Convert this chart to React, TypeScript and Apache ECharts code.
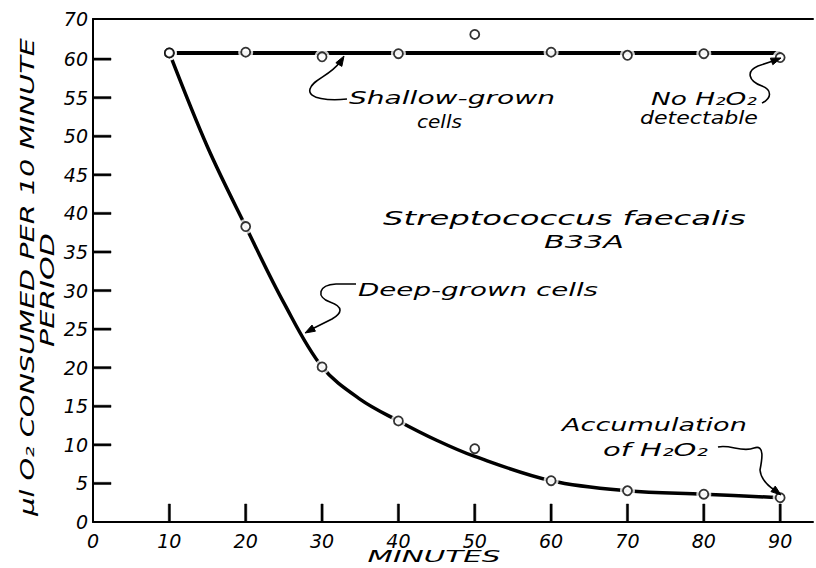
import React, { useEffect, useRef } from "react";
import * as echarts from "echarts";

// ---------- data ----------
const minutes = [10, 20, 30, 40, 50, 60, 70, 80, 90];
const shallowObserved = [60.8, 60.9, 60.3, 60.7, 63.2, 60.9, 60.5, 60.7, 60.2];
const deepObserved = [60.8, 38.3, 20.1, 13.1, 9.5, 5.35, 4.05, 3.6, 3.15];
const offCurveMinute = 50;

const shallowFitMinutes = [10, 90];
const shallowFitValues = [60.8, 60.8];
const deepFitMinutes = [10, 15, 20, 25, 30, 35, 40, 45, 50, 60, 70, 80, 90];
const deepFitValues = [60.8, 48.6, 38.3, 28.4, 20.1, 15.9, 13.1, 10.6, 8.5, 5.35, 4.05, 3.6, 3.15];

const xLabelValues = [0, 10, 20, 30, 40, 50, 60, 70, 80, 90];
const xTickLabels = ["0", "10", "20", "30", "40", "50", "60", "70", "80", "90"];
const xTickValues = [10, 20, 30, 40, 50, 60, 70, 80, 90];
const xStep = 10;
const xMax = 94.3;

const yTop = 65.2;
const yLabelValues = [0, 5, 10, 15, 20, 25, 30, 35, 40, 45, 50, 55, 60, yTop];
const yTickLabels = ["0", "5", "10", "15", "20", "25", "30", "35", "40", "45", "50", "55", "60", "70"];
const yTickValues = [5, 10, 15, 20, 25, 30, 35, 40, 45, 50, 55, 60];
const yStep = 5;

const FONT = '"DejaVu Sans", sans-serif';
const INK = "#000";
const TICK_LEN = 18;
const TICK_W = 2.2;
const GRID = { left: 93, right: 0, top: 19, bottom: 46 };
const W = 816;
const H = 568;

function measure(text: string, size: number): number {
  try {
    const ctx = document.createElement("canvas").getContext("2d");
    if (ctx) {
      ctx.font = `italic ${size}px "DejaVu Sans"`;
      return ctx.measureText(text).width;
    }
  } catch (e) {}
  return text.length * size * 0.6;
}

function label(text: string, x: number, y: number, width: number, size: number, align = "left", rotation = 0) {
  const w = measure(text, size);
  return {
    type: "text",
    x,
    y,
    rotation,
    scaleX: width / w,
    silent: true,
    z: 10,
    style: {
      text,
      fontSize: size,
      fontFamily: FONT,
      fontStyle: "italic",
      fill: INK,
      align,
      verticalAlign: "middle",
    },
  };
}

function arrowHead(tip: number[], from: number[], len = 10, half = 3.5) {
  const dx = tip[0] - from[0];
  const dy = tip[1] - from[1];
  const d = Math.hypot(dx, dy) || 1;
  const ux = dx / d, uy = dy / d;
  const bx = tip[0] - ux * len, by = tip[1] - uy * len;
  const px = -uy, py = ux;
  return {
    type: "polygon",
    silent: true,
    z: 10,
    shape: { points: [tip, [bx + px * half, by + py * half], [bx - px * half, by - py * half]] },
    style: { fill: INK, stroke: INK, lineWidth: 1 },
  };
}

const arrows = [
  { name: "arrowShallow", d: "M347 99 C330 101 307 99 310 89 C313 79 330 76 340 62", tip: [344, 56], from: [338, 66] },
  { name: "arrowNoH2O2", d: "M762 103 C772 98 772 90 762 86 C748 81 746 71 758 66 L776 60", tip: [781, 58], from: [770, 62] },
  { name: "arrowDeep", d: "M356 284 L336 284 C318 285 316 297 330 302 C344 307 342 313 332 319 L310 330", tip: [305, 333], from: [314, 328] },
  { name: "arrowAccum", d: "M718 447 C730 444 742 453 754 448 C765 444 762 460 760 470 C761 480 768 486 776 491", tip: [781, 495], from: [772, 488] },
];

function lookup(values: number[], labels: string[], v: number) {
  const i = values.findIndex((t) => Math.abs(t - v) < 1e-6);
  return i >= 0 ? labels[i] : "";
}

export default function App() {
  const ref = useRef<HTMLDivElement>(null);

  useEffect(() => {
    if (!ref.current) return;
    document.body.style.margin = "0";
    arrows.forEach((a) => {
      echarts.graphic.registerShape(a.name, echarts.graphic.extendPath(a.d, {}) as any);
    });
    const chart = echarts.init(ref.current, undefined, { renderer: "svg", width: W, height: H });

    const observed = [
      ...minutes.map((m, i) => [m, shallowObserved[i]]),
      ...minutes.map((m, i) => [m, deepObserved[i]]),
    ];
    const halo = observed.filter((p) => p[0] !== offCurveMinute);

    // tick data: [x, y, direction] ; 0 = vertical tick on the x axis, 1 = horizontal tick on the y axis
    const tickData = [
      ...xTickValues.map((v) => [v, 0, 0]),
      ...yTickValues.map((v) => [0, v, 1]),
    ];

    const labelText = {
      color: INK,
      fontSize: 19,
      fontStyle: "italic" as const,
      fontFamily: FONT,
    };
    const axisStyle = { color: INK, width: 2 };

    const graphics: any[] = [
      label("μl O₂ CONSUMED PER 10 MINUTE", 27, 277, 478, 20, "center", Math.PI / 2),
      label("PERIOD", 47, 290, 114, 20, "center", Math.PI / 2),
      label("MINUTES", 434, 557, 133, 16, "center"),
      label("Shallow-grown", 349, 98, 206, 18),
      label("cells", 417, 121, 45, 18),
      label("No H₂O₂", 651, 99, 106, 18),
      label("detectable", 640, 118, 118, 18),
      label("Streptococcus faecalis", 383, 218, 363, 19),
      label("B33A", 544, 242, 80, 18),
      label("Deep-grown cells", 358, 290, 240, 18),
      label("Accumulation", 562, 425, 185, 18),
      label("of H₂O₂", 603, 450, 105, 18),
    ];
    arrows.forEach((a) => {
      graphics.push({
        type: a.name,
        x: 0,
        y: 0,
        silent: true,
        z: 10,
        style: { fill: "none", stroke: INK, lineWidth: 1.6 },
      });
      graphics.push(arrowHead(a.tip, a.from));
    });

    chart.setOption({
      animation: false,
      backgroundColor: "#fff",
      grid: GRID,
      xAxis: [
        {
          type: "value",
          min: 0,
          max: xMax,
          interval: xStep,
          axisLine: { show: true, onZero: false, lineStyle: axisStyle },
          axisTick: { show: false },
          axisLabel: {
            ...labelText,
            margin: 9,
            showMaxLabel: true,
            formatter: (v: number) => lookup(xLabelValues, xTickLabels, v),
          },
          splitLine: { show: false },
        },
        {
          type: "value",
          position: "top",
          min: 0,
          max: xMax,
          axisLine: { show: true, onZero: false, lineStyle: axisStyle },
          axisTick: { show: false },
          axisLabel: { show: false },
          splitLine: { show: false },
        },
      ],
      yAxis: {
        type: "value",
        min: 0,
        max: yTop,
        interval: yStep,
        axisLine: { show: true, onZero: false, lineStyle: axisStyle },
        axisTick: { show: false },
        axisLabel: {
          ...labelText,
          margin: 5,
          showMaxLabel: true,
          formatter: (v: number) => lookup(yLabelValues, yTickLabels, v),
        },
        splitLine: { show: false },
      },
      graphic: { elements: graphics },
      series: [
        {
          type: "line",
          name: "Shallow-grown fit",
          data: shallowFitMinutes.map((m, i) => [m, shallowFitValues[i]]),
          symbol: "none",
          lineStyle: { color: INK, width: 4 },
          z: 1,
          silent: true,
        },
        {
          type: "line",
          name: "Deep-grown fit",
          data: deepFitMinutes.map((m, i) => [m, deepFitValues[i]]),
          smooth: 0.35,
          symbol: "none",
          lineStyle: { color: INK, width: 3.5 },
          z: 1,
          silent: true,
        },
        {
          type: "scatter",
          name: "halo",
          data: halo,
          symbol: "circle",
          symbolSize: 15,
          itemStyle: { color: "#fff" },
          z: 3,
          silent: true,
        },
        {
          type: "scatter",
          name: "observed",
          data: observed,
          symbol: "circle",
          symbolSize: 9,
          itemStyle: { color: "#fff", borderColor: INK, borderWidth: 1.8 },
          z: 4,
          silent: true,
        },
        {
          type: "custom",
          name: "ticks",
          data: tickData,
          clip: false,
          silent: true,
          z: 6,
          encode: { x: 0, y: 1 },
          renderItem: (params: any, api: any) => {
            const p = api.coord([api.value(0), api.value(1)]);
            const vertical = api.value(2) === 0;
            const h = TICK_W / 2;
            const pts = vertical
              ? [[p[0] - h, p[1]], [p[0] + h, p[1]], [p[0] + h, p[1] - TICK_LEN], [p[0] - h, p[1] - TICK_LEN]]
              : [[p[0], p[1] - h], [p[0] + TICK_LEN, p[1] - h], [p[0] + TICK_LEN, p[1] + h], [p[0], p[1] + h]];
            return {
              type: "polygon",
              shape: { points: pts },
              style: { fill: INK, stroke: INK, lineWidth: 0.5 },
            };
          },
        },
      ],
    });

    return () => chart.dispose();
  }, []);

  return <div ref={ref} style={{ position: "absolute", left: 0, top: 0, width: W, height: H }} />;
}
